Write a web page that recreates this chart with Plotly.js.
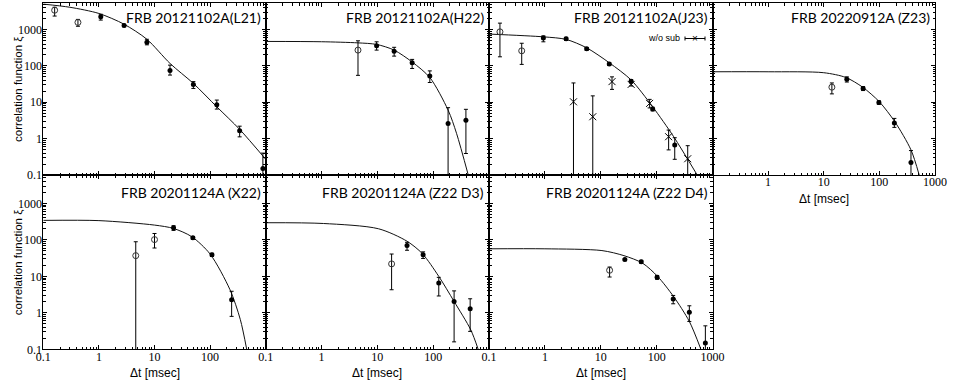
<!DOCTYPE html>
<html>
<head>
<meta charset="utf-8">
<script src="https://cdn.plot.ly/plotly-3.0.1.min.js"></script>
<style>
  html, body { margin: 0; padding: 0; background: #fff; }
  #chart { width: 964px; height: 382px; }
</style>
</head>
<body>
<div id="chart"></div>
<script>
// rows: [dt (msec), xi, lower end of error bar, upper end of error bar]
// lower ends below 0.1 just mean the bar runs off the bottom of the panel
const l21Filled = [[1.08, 2240, 1820, 2630], [2.84, 1290, 1200, 1400], [7.3, 450, 380, 540], [19, 75, 56, 105],
                   [50, 31, 24, 37], [132, 8.5, 6.5, 11.5], [340, 1.65, 1.12, 2.2], [890, 0.15, 0.05, 0.4]];
const l21Open = [[0.16, 3400, 2350, 4100], [0.42, 1570, 1230, 1900]];
const l21FitT = [0.1, 0.3, 1, 2.84, 7.3, 19, 50, 132, 340, 1000];
const l21FitXi = [5000, 4100, 2770, 1400, 540, 117, 33, 7.5, 1.8, 0.27];

const h22Filled = [[9.7, 357, 272, 460], [20, 255, 186, 325], [42, 122, 85, 151], [87, 53, 35, 73],
                   [185, 2.6, 0.05, 7.1], [386, 3.2, 0.39, 6.4]];
const h22Open = [[4.5, 272, 55, 490]];
const h22FitT = [0.1, 1, 4.5, 9.7, 20, 42, 87, 185, 262, 425];
const h22FitXi = [471, 462, 430, 390, 272, 128, 48, 6.1, 1.4, 0.1];

const j23Filled = [[0.94, 590, 460, 670], [2.4, 555, 500, 610], [5.6, 295, 270, 320], [14.2, 112, 103, 122],
                   [35, 38, 35, 42], [85, 6.5, 5.8, 7.3], [211, 0.67, 0.27, 1.06]];
const j23Open = [[0.157, 865, 178, 1500], [0.385, 260, 110, 420]];
const j23NoSub = [[3.25, 10.3, 0.05, 34], [7.2, 4.0, 0.05, 15], [15.9, 37, 22.6, 50], [35, 31, 28, 34],
                  [75, 9.3, 7, 12], [164, 1.13, 0.49, 1.72], [360, 0.28, 0.05, 0.64]];
const j23FitT = [0.1, 0.94, 2.4, 5.6, 14.2, 35, 85, 202, 532];
const j23FitXi = [750, 630, 535, 314, 122, 41, 7.5, 1.13, 0.1];

const z23Filled = [[26, 43, 36, 50], [51, 24, 21, 27], [98, 9.8, 8.8, 11], [186, 2.7, 2.04, 3.6], [370, 0.22, 0.05, 0.47]];
const z23Open = [[14, 26, 17, 34]];
const z23FitT = [0.1, 1, 10, 25, 50, 100, 190, 370, 520];
const z23FitXi = [69, 69, 65, 48, 26, 10.3, 2.9, 0.49, 0.1];

const x22Filled = [[22, 215, 182, 245], [49, 114, 104, 124], [108, 39, 35, 43], [244, 2.3, 0.8, 3.9]];
const x22Open = [[4.6, 37, 0.05, 89], [10, 102, 60, 150]];
const x22FitT = [0.1, 1, 10, 22, 47, 100, 228, 350, 455];
const x22FitXi = [343, 338, 255, 206, 122, 41, 4.3, 0.65, 0.1];

const d3Filled = [[34, 70, 52, 86], [66, 39, 31, 47], [126, 6.6, 2.9, 9.4], [237, 2.05, 0.16, 4.0], [460, 1.29, 0.31, 2.43]];
const d3Open = [[18, 22, 4.3, 41]];
const d3FitT = [0.1, 1.08, 10.5, 34, 64, 126, 237, 472, 640];
const d3FitXi = [296, 282, 202, 92, 42, 10, 2.05, 0.34, 0.1];

const d4Filled = [[27, 29, 27, 31], [53, 25, 23, 27.5], [102, 9.4, 8.3, 10.6], [198, 2.4, 1.77, 3.0],
                  [385, 1.04, 0.58, 1.56], [745, 0.15, 0.05, 0.44]];
const d4Open = [[14.4, 14.7, 9.6, 18]];
const d4FitT = [0.1, 1, 10.5, 26, 56, 104, 201, 385, 620];
const d4FitXi = [57, 57, 51, 37, 23, 10, 2.8, 0.58, 0.1];

const panelNames = ['FRB 20121102A(L21)', 'FRB 20121102A(H22)', 'FRB 20121102A(J23)', 'FRB 20220912A (Z23)',
                    'FRB 20201124A (X22)', 'FRB 20201124A (Z22 D3)', 'FRB 20201124A (Z22 D4)'];
const decades = [0.1, 1, 10, 100, 1000];
const decadeText = ['0.1', '1', '10', '100', '1000'];

const W = 964, H = 382;
const colPx = [[43.3, 265.7], [265.7, 489], [489, 712.5], [712.5, 935]];
const rowPx = [[3, 175], [175, 349.3]];

const panels = [
  { col: 0, row: 0, filled: l21Filled, open: l21Open, fitT: l21FitT, fitXi: l21FitXi, xLab: null, yLab: true },
  { col: 1, row: 0, filled: h22Filled, open: h22Open, fitT: h22FitT, fitXi: h22FitXi, xLab: null, yLab: false },
  { col: 2, row: 0, filled: j23Filled, open: j23Open, cross: j23NoSub, fitT: j23FitT, fitXi: j23FitXi, xLab: null, yLab: false },
  { col: 3, row: 0, filled: z23Filled, open: z23Open, fitT: z23FitT, fitXi: z23FitXi, xLab: ['', '1', '10', '100', '1000'], yLab: false },
  { col: 0, row: 1, filled: x22Filled, open: x22Open, fitT: x22FitT, fitXi: x22FitXi, xLab: ['0.1', '1', '10', '100', ''], yLab: true },
  { col: 1, row: 1, filled: d3Filled, open: d3Open, fitT: d3FitT, fitXi: d3FitXi, xLab: ['0.1', '1', '10', '100', ''], yLab: false },
  { col: 2, row: 1, filled: d4Filled, open: d4Open, fitT: d4FitT, fitXi: d4FitXi, xLab: decadeText, yLab: false }
];

// minor tick positions 2..9 in every decade
const minorVals = [];
for (let e = -1; e < 4; e++) {
  for (let k = 2; k < 10; k++) minorVals.push(k * Math.pow(10, e));
}

const serif = '"Liberation Serif", "Times New Roman", Times, serif';
const sans = '"Liberation Sans", Arial, sans-serif';

function axis(range, labels, standoff) {
  return {
    type: 'log', range: range, showline: true, linecolor: '#000', linewidth: 1, mirror: 'allticks',
    ticks: 'inside', ticklen: 4, tickwidth: 1, tickcolor: '#000', showgrid: false, zeroline: false,
    tickmode: 'array', tickvals: decades, ticktext: labels || decadeText, showticklabels: !!labels,
    ticklabelstandoff: standoff,
    tickfont: { family: serif, size: 12, color: '#000' },
    minor: { ticks: 'inside', ticklen: 2.5, tickwidth: 1, tickcolor: '#000', tickmode: 'array', tickvals: minorVals, showgrid: false },
    fixedrange: true
  };
}

function pointTrace(rows, marker, xa, ya) {
  return {
    x: rows.map(r => r[0]), y: rows.map(r => r[1]),
    error_y: { type: 'data', symmetric: false, array: rows.map(r => r[3] - r[1]), arrayminus: rows.map(r => r[1] - r[2]),
               color: '#000', thickness: 1, width: 2 },
    mode: 'markers', type: 'scatter', marker: marker, xaxis: xa, yaxis: ya, showlegend: false, hoverinfo: 'x+y'
  };
}

const traces = [];
const layout = {
  width: W, height: H, margin: { l: 0, r: 0, t: 0, b: 0 },
  paper_bgcolor: '#fff', plot_bgcolor: '#fff', showlegend: false,
  annotations: [], shapes: []
};

panels.forEach((p, i) => {
  const n = i + 1;
  const xa = 'x' + (n > 1 ? n : ''), ya = 'y' + (n > 1 ? n : '');
  const xKey = 'xaxis' + (n > 1 ? n : ''), yKey = 'yaxis' + (n > 1 ? n : '');
  const cx = colPx[p.col], ry = rowPx[p.row];

  const xAx = axis([-1, 3], p.xLab, -4);
  xAx.domain = [cx[0] / W, cx[1] / W];
  xAx.anchor = ya;
  const yAx = axis([-1, p.row === 0 ? 3.73 : 3.78], p.yLab ? decadeText : null, -2);
  yAx.domain = [1 - ry[1] / H, 1 - ry[0] / H];
  yAx.anchor = xa;
  layout[xKey] = xAx;
  layout[yKey] = yAx;

  traces.push({
    x: p.fitT, y: p.fitXi, mode: 'lines', type: 'scatter', xaxis: xa, yaxis: ya,
    line: { color: '#111', width: 1, shape: 'spline', smoothing: 0.8 }, showlegend: false, hoverinfo: 'skip'
  });
  traces.push(pointTrace(p.open, { symbol: 'circle-open', size: 6, color: '#333', line: { width: 1, color: '#333' } }, xa, ya));
  if (p.cross) {
    traces.push(pointTrace(p.cross, { symbol: 'x-thin-open', size: 7, color: '#000', line: { width: 1, color: '#000' } }, xa, ya));
  }
  traces.push(pointTrace(p.filled, { symbol: 'circle', size: 5, color: '#000' }, xa, ya));

  layout.annotations.push({
    text: panelNames[i], xref: 'paper', yref: 'paper', x: (cx[1] - 3) / W, y: 1 - (ry[0] + (p.row === 0 ? 14 : 17)) / H,
    xanchor: 'right', yanchor: 'middle', showarrow: false,
    font: { family: 'Lato, sans-serif', size: 14, color: '#000' }
  });
  if (p.xLab) {
    layout.annotations.push({
      text: '\u0394t [msec]', xref: 'paper', yref: 'paper', x: (cx[0] + cx[1]) / 2 / W, y: 1 - (ry[1] + 23.5) / H,
      xanchor: 'center', yanchor: 'middle', showarrow: false,
      font: { family: sans, size: 12, color: '#000' }
    });
  }
  if (p.yLab) {
    layout.annotations.push({
      text: 'correlation function \u03be', xref: 'paper', yref: 'paper', x: 18 / W, y: 1 - (ry[0] + ry[1]) / 2 / H,
      xanchor: 'center', yanchor: 'middle', textangle: -90, showarrow: false,
      font: { family: sans, size: 11.5, color: '#000' }
    });
  }
});

// "w/o sub" key in the J23 panel
layout.annotations.push({
  text: 'w/o sub', xref: 'paper', yref: 'paper', x: 682 / W, y: 1 - 38.5 / H, xanchor: 'right', yanchor: 'middle',
  showarrow: false, font: { family: sans, size: 9, color: '#000' }
});
layout.annotations.push({
  text: '\u00d7', xref: 'paper', yref: 'paper', x: 695 / W, y: 1 - 38.5 / H, xanchor: 'center', yanchor: 'middle',
  showarrow: false, font: { family: sans, size: 10, color: '#000' }
});
const keyLine = { type: 'line', xref: 'paper', yref: 'paper', line: { color: '#000', width: 1 } };
layout.shapes.push(Object.assign({}, keyLine, { x0: 685 / W, x1: 705 / W, y0: 1 - 38.5 / H, y1: 1 - 38.5 / H }));
layout.shapes.push(Object.assign({}, keyLine, { x0: 685 / W, x1: 685 / W, y0: 1 - 36.5 / H, y1: 1 - 40.5 / H }));
layout.shapes.push(Object.assign({}, keyLine, { x0: 705 / W, x1: 705 / W, y0: 1 - 36.5 / H, y1: 1 - 40.5 / H }));

Plotly.newPlot('chart', traces, layout, { staticPlot: true });
</script>
</body>
</html>
